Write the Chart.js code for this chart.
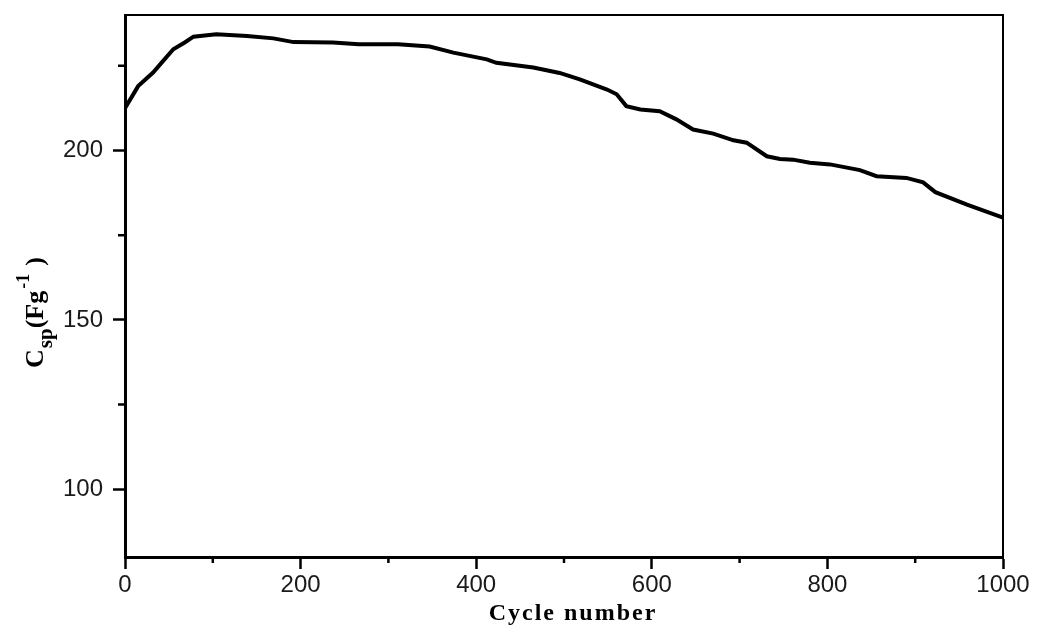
<!DOCTYPE html>
<html>
<head>
<meta charset="utf-8">
<script src="https://cdn.jsdelivr.net/npm/chart.js@4"></script>
<style>
  html, body { margin: 0; padding: 0; background: #fff; }
  #wrap { width: 1037px; height: 626px; position: relative; }
</style>
</head>
<body>
<div id="wrap"><canvas id="cspChart" width="1037" height="626"></canvas></div>
<script>
// Cycle number vs specific capacitance
const cycles = [0, 15, 32, 42, 55, 68, 78, 104, 139, 169, 192, 237, 266, 311, 347, 374, 412, 423,
                465, 495, 518, 549, 560, 571, 587, 609, 628, 647, 670, 693, 708, 731, 746, 761,
                780, 803, 837, 856, 890, 909, 923, 959, 1000];
const capacitance = [212.5, 219, 223, 226, 229.9, 231.9, 233.6, 234.3, 233.8, 233.1, 232, 231.9, 231.4,
                     231.4, 230.7, 228.9, 226.9, 225.9, 224.5, 222.9, 221, 218, 216.6, 213.1, 212.1,
                     211.6, 209.2, 206.2, 205, 203, 202.3, 198.3, 197.5, 197.3, 196.4, 195.9, 194.2,
                     192.4, 191.9, 190.6, 187.7, 184, 180.2];
const xMajorTicks = [0, 200, 400, 600, 800, 1000];
const yMajorTicks = [100, 150, 200];

const tickFont = { family: '"Liberation Sans", Arial, sans-serif', size: 24 };
const tickColor = '#1a1a1a';

// Minor ticks, frame and axis titles
const decorations = {
    id: 'decorations',
    afterDraw(chart) {
        const ctx = chart.ctx;
        const area = chart.chartArea;
        const xs = chart.scales.x;
        const ys = chart.scales.y;
        ctx.save();
        ctx.strokeStyle = '#000';
        ctx.lineWidth = 2.5;
        ctx.beginPath();
        for (let v = 100; v < 1000; v += 200) {
            const px = xs.getPixelForValue(v);
            ctx.moveTo(px, area.bottom);
            ctx.lineTo(px, area.bottom + 6);
        }
        for (let v = 125; v < 240; v += 50) {
            const py = ys.getPixelForValue(v);
            ctx.moveTo(area.left, py);
            ctx.lineTo(area.left - 7, py);
        }
        ctx.stroke();

        // top and right edges of the box
        ctx.lineWidth = 2;
        ctx.beginPath();
        ctx.moveTo(area.left, area.top);
        ctx.lineTo(area.right, area.top);
        ctx.lineTo(area.right, area.bottom);
        ctx.stroke();

        // x title
        ctx.fillStyle = '#000';
        ctx.font = 'bold 24px "Liberation Serif", "Times New Roman", serif';
        ctx.letterSpacing = '2px';
        ctx.textAlign = 'center';
        ctx.textBaseline = 'alphabetic';
        ctx.fillText('Cycle number', 573, 620);
        ctx.letterSpacing = '0px';

        // y title: C_sp(Fg^-1), rotated
        ctx.translate(43, 368);
        ctx.rotate(-Math.PI / 2);
        ctx.textAlign = 'left';
        const big = 'bold 26px "Liberation Serif", "Times New Roman", serif';
        const small = 'bold 21px "Liberation Serif", "Times New Roman", serif';
        const sup = 'bold 18px "Liberation Serif", "Times New Roman", serif';
        let x = 0;
        ctx.font = big;
        ctx.fillText('C', x, 0);
        x += ctx.measureText('C').width + 1;
        ctx.font = small;
        ctx.fillText('sp', x, 9);
        x += ctx.measureText('sp').width;
        ctx.font = big;
        ctx.fillText('(Fg', x, 0);
        x += ctx.measureText('(Fg').width + 2;
        ctx.font = sup;
        ctx.fillText('-1', x, -14);
        x += ctx.measureText('-1').width + 8;
        ctx.font = big;
        ctx.fillText(')', x, 0);
        ctx.restore();
    }
};

const ctx = document.getElementById('cspChart').getContext('2d');
new Chart(ctx, {
    type: 'line',
    data: {
        datasets: [{
            data: cycles.map((c, i) => ({ x: c, y: capacitance[i] })),
            borderColor: '#000',
            borderWidth: 4,
            pointRadius: 0,
            tension: 0,
            fill: false
        }]
    },
    options: {
        responsive: false,
        animation: false,
        layout: { padding: { top: 15, right: 34, left: 0, bottom: 0 } },
        plugins: { legend: { display: false }, tooltip: { enabled: false } },
        scales: {
            x: {
                type: 'linear',
                min: 0,
                max: 1000,
                afterFit: scale => {
                    scale.height = 69;
                    scale.paddingLeft = 0;
                    scale.paddingRight = 0;
                },
                afterBuildTicks: scale => { scale.ticks = xMajorTicks.map(v => ({ value: v })); },
                ticks: { font: tickFont, color: tickColor, padding: 2, maxRotation: 0, callback: v => String(v) },
                grid: { drawOnChartArea: false, drawTicks: true, tickLength: 12, tickWidth: 2.5, tickColor: '#000' },
                border: { color: '#000', width: 3 }
            },
            y: {
                type: 'linear',
                min: 80,
                max: 240,
                afterFit: scale => {
                    scale.width = 125;
                    scale.paddingTop = 0;
                    scale.paddingBottom = 0;
                },
                afterBuildTicks: scale => { scale.ticks = yMajorTicks.map(v => ({ value: v })); },
                ticks: { font: tickFont, color: tickColor, padding: 10, callback: v => String(v) },
                grid: { drawOnChartArea: false, drawTicks: true, tickLength: 12, tickWidth: 2.5, tickColor: '#000' },
                border: { color: '#000', width: 3 }
            }
        }
    },
    plugins: [decorations]
});
</script>
</body>
</html>
